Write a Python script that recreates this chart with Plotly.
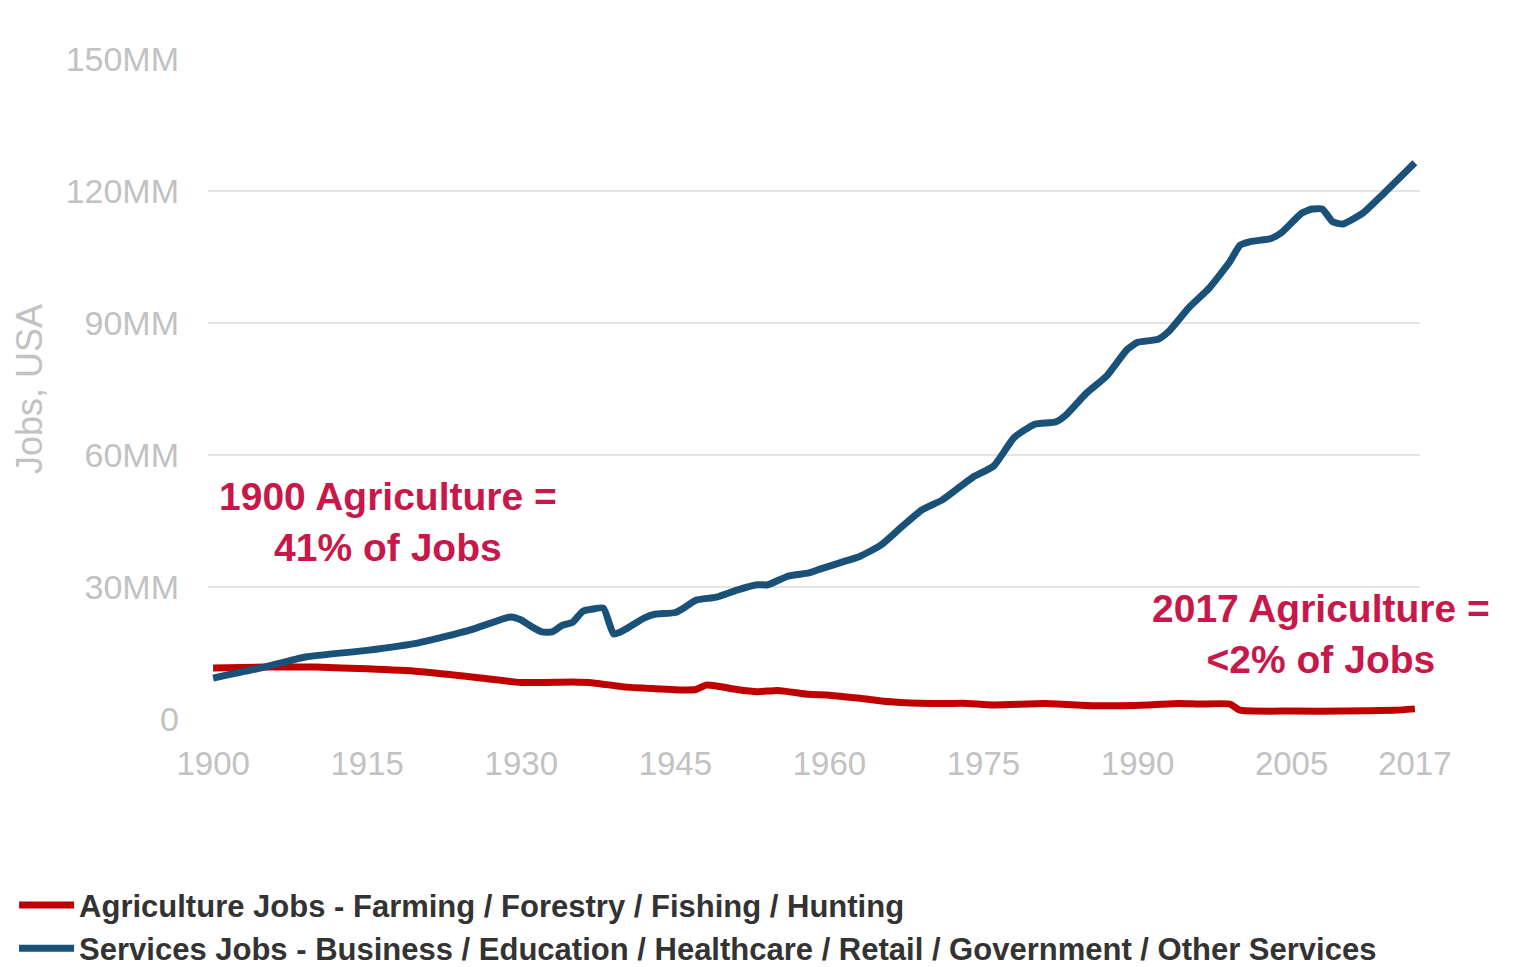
import plotly.graph_objects as go

# values in millions of jobs
agri_years = [1900, 1905, 1910, 1915, 1920, 1925, 1930, 1935, 1937, 1940,
              1943, 1946, 1947, 1948, 1949, 1951, 1953, 1955, 1958, 1960,
              1963, 1966, 1970, 1973, 1976, 1981, 1986, 1991, 1994, 1996,
              1999, 2000, 2005, 2010, 2015, 2017]
agri_jobs = [11.6, 11.8, 11.8, 11.4, 10.8, 9.6, 8.3, 8.4, 8.2, 7.3,
             6.9, 6.6, 6.7, 7.7, 7.5, 6.7, 6.2, 6.5, 5.6, 5.4,
             4.7, 3.9, 3.5, 3.6, 3.2, 3.5, 3.0, 3.2, 3.5, 3.4,
             3.4, 2.0, 1.8, 1.8, 2.0, 2.3]

serv_years = [1900, 1905, 1909, 1915, 1920, 1925, 1929, 1930, 1931, 1932,
              1933, 1934, 1935, 1936, 1937, 1938, 1939, 1940, 1942, 1943,
              1945, 1946, 1947, 1949, 1951, 1953, 1954, 1956, 1958, 1959,
              1961, 1963, 1965, 1967, 1969, 1971, 1974, 1976, 1978, 1980,
              1982, 1983, 1985, 1987, 1989, 1990, 1992, 1993, 1995, 1997,
              1999, 2000, 2001, 2003, 2004, 2006, 2007, 2008, 2009, 2010,
              2012, 2014, 2017]
serv_jobs = [9.3, 11.8, 14.1, 15.6, 17.3, 20.2, 23.2, 22.5, 21.0, 19.8,
             19.8, 21.3, 22.0, 24.5, 25.0, 25.2, 19.3, 20.2, 23.0, 23.8,
             24.2, 25.5, 27.0, 27.7, 29.3, 30.5, 30.5, 32.5, 33.2, 34.0,
             35.5, 37.0, 39.5, 43.6, 47.5, 49.8, 55.0, 57.5, 64.0, 67.0,
             67.5, 69.0, 74.0, 78.0, 84.0, 85.6, 86.3, 88.0, 93.5, 98.0,
             104.0, 107.7, 108.5, 109.2, 110.5, 115.0, 115.9, 115.9, 113.0, 112.5,
             115.1, 119.5, 126.4]

x_ticks = [1900, 1915, 1930, 1945, 1960, 1975, 1990, 2005, 2017]
y_ticks = [0, 30, 60, 90, 120, 150]
y_labels = ["0", "30MM", "60MM", "90MM", "120MM", "150MM"]

RED = "#c00000"
BLUE = "#1a5178"
NOTE = "#c8184a"
GREY = "#c2c2c2"
FONT = "Liberation Sans"

fig = go.Figure()
fig.add_trace(go.Scatter(
    x=agri_years, y=agri_jobs, mode="lines",
    name="<b>Agriculture Jobs - Farming / Forestry / Fishing / Hunting</b>",
    line=dict(color=RED, width=7, shape="spline", smoothing=0.5),
))
fig.add_trace(go.Scatter(
    x=serv_years, y=serv_jobs, mode="lines",
    name="<b>Services Jobs - Business / Education / Healthcare / Retail / "
         "Government / Other Services</b>",
    line=dict(color=BLUE, width=7, shape="spline", smoothing=0.5),
))

fig.add_annotation(
    text="<b>1900 Agriculture =<br>41% of Jobs</b>",
    xref="paper", yref="paper", x=0.1485, y=0.298,
    xanchor="center", yanchor="middle",
    showarrow=False, font=dict(size=39, color=NOTE, family=FONT),
)
fig.add_annotation(
    text="<b>2017 Agriculture =<br>&lt;2% of Jobs</b>",
    xref="paper", yref="paper", x=0.918, y=0.129,
    xanchor="center", yanchor="middle",
    showarrow=False, font=dict(size=39, color=NOTE, family=FONT),
)

# the page body adds an 8px offset, so margins are trimmed by that much
fig.update_layout(
    width=1530, height=967,
    margin=dict(l=200, r=118, t=51, b=256, autoexpand=False),
    paper_bgcolor="white", plot_bgcolor="white",
    font=dict(family=FONT),
    showlegend=True,
    legend=dict(
        x=-0.160, y=-0.2414, xanchor="left", yanchor="top",
        orientation="v", font=dict(size=31, color="#333333", family=FONT),
        bgcolor="rgba(0,0,0,0)", itemwidth=55, tracegroupgap=0,
    ),
    xaxis=dict(
        range=[1899.5, 2017.5], tickvals=x_ticks,
        showgrid=False, zeroline=False, showline=False,
        ticks="", ticklabelstandoff=22,
        tickfont=dict(size=33, color=GREY),
    ),
    yaxis=dict(
        range=[0, 150], tickvals=y_ticks, ticktext=y_labels,
        showgrid=True, gridcolor="#e4e4e4", gridwidth=2,
        zeroline=False, showline=False, ticks="", ticklabelstandoff=28,
        tickfont=dict(size=34, color=GREY),
        title=dict(text="Jobs, USA", standoff=12,
                   font=dict(size=36, color=GREY)),
    ),
)

fig.write_html("out.html")
